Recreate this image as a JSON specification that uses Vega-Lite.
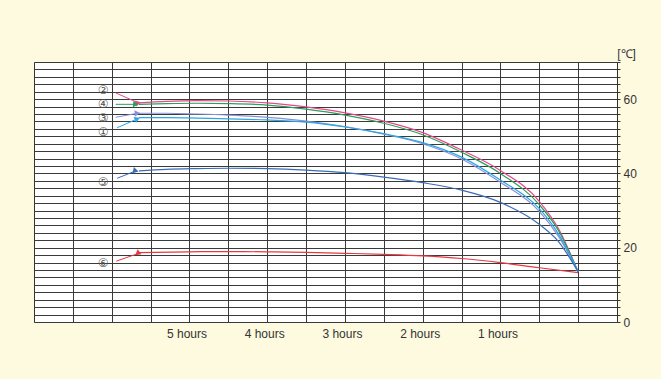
{
  "$schema": "https://vega.github.io/schema/vega-lite/v6.json",
  "width": 583,
  "height": 260,
  "autosize": {"type": "none"},
  "padding": {"left": 34, "top": 62, "right": 44, "bottom": 57},
  "background": "#fdfae0",
  "config": {
    "view": {"fill": "#ffffff", "stroke": "#333333", "strokeWidth": 1},
    "font": "Liberation Sans"
  },
  "datasets": {
    "curves": [
      {"s": "2", "h": 5.65, "v": 59.0}, {"s": "2", "h": 5.3, "v": 59.4}, {"s": "2", "h": 4.9, "v": 59.6}, {"s": "2", "h": 4.5, "v": 59.5}, {"s": "2", "h": 4.0, "v": 59.0}, {"s": "2", "h": 3.5, "v": 57.9}, {"s": "2", "h": 3.0, "v": 56.3}, {"s": "2", "h": 2.5, "v": 54.1}, {"s": "2", "h": 2.0, "v": 51.0}, {"s": "2", "h": 1.5, "v": 46.3}, {"s": "2", "h": 1.0, "v": 40.8}, {"s": "2", "h": 0.5, "v": 32.5}, {"s": "2", "h": 0.25, "v": 25.0}, {"s": "2", "h": 0, "v": 13.5},
      {"s": "4", "h": 5.65, "v": 58.6}, {"s": "4", "h": 5.3, "v": 58.8}, {"s": "4", "h": 4.9, "v": 58.9}, {"s": "4", "h": 4.5, "v": 58.8}, {"s": "4", "h": 4.0, "v": 58.4}, {"s": "4", "h": 3.5, "v": 57.3}, {"s": "4", "h": 3.0, "v": 55.7}, {"s": "4", "h": 2.5, "v": 53.5}, {"s": "4", "h": 2.0, "v": 50.4}, {"s": "4", "h": 1.5, "v": 45.7}, {"s": "4", "h": 1.0, "v": 40.0}, {"s": "4", "h": 0.5, "v": 31.6}, {"s": "4", "h": 0.25, "v": 24.5}, {"s": "4", "h": 0, "v": 13.5},
      {"s": "3", "h": 5.65, "v": 56.2}, {"s": "3", "h": 5.3, "v": 56.2}, {"s": "3", "h": 4.9, "v": 56.0}, {"s": "3", "h": 4.5, "v": 55.7}, {"s": "3", "h": 4.0, "v": 55.1}, {"s": "3", "h": 3.5, "v": 54.1}, {"s": "3", "h": 3.0, "v": 52.6}, {"s": "3", "h": 2.5, "v": 50.6}, {"s": "3", "h": 2.0, "v": 48.0}, {"s": "3", "h": 1.5, "v": 43.9}, {"s": "3", "h": 1.0, "v": 37.6}, {"s": "3", "h": 0.5, "v": 29.8}, {"s": "3", "h": 0.25, "v": 23.0}, {"s": "3", "h": 0, "v": 13.5},
      {"s": "1", "h": 5.65, "v": 55.0}, {"s": "1", "h": 5.3, "v": 55.0}, {"s": "1", "h": 4.9, "v": 54.9}, {"s": "1", "h": 4.5, "v": 54.7}, {"s": "1", "h": 4.0, "v": 54.4}, {"s": "1", "h": 3.5, "v": 53.8}, {"s": "1", "h": 3.0, "v": 52.5}, {"s": "1", "h": 2.5, "v": 50.7}, {"s": "1", "h": 2.0, "v": 48.3}, {"s": "1", "h": 1.5, "v": 44.4}, {"s": "1", "h": 1.0, "v": 38.2}, {"s": "1", "h": 0.5, "v": 30.5}, {"s": "1", "h": 0.25, "v": 23.6}, {"s": "1", "h": 0, "v": 13.5},
      {"s": "5", "h": 5.65, "v": 40.7}, {"s": "5", "h": 5.3, "v": 41.1}, {"s": "5", "h": 4.9, "v": 41.3}, {"s": "5", "h": 4.5, "v": 41.4}, {"s": "5", "h": 4.0, "v": 41.3}, {"s": "5", "h": 3.5, "v": 40.9}, {"s": "5", "h": 3.0, "v": 40.2}, {"s": "5", "h": 2.5, "v": 39.0}, {"s": "5", "h": 2.0, "v": 37.5}, {"s": "5", "h": 1.5, "v": 35.5}, {"s": "5", "h": 1.0, "v": 32.2}, {"s": "5", "h": 0.5, "v": 26.3}, {"s": "5", "h": 0.25, "v": 21.6}, {"s": "5", "h": 0, "v": 13.5},
      {"s": "6", "h": 5.65, "v": 18.7}, {"s": "6", "h": 5.0, "v": 18.9}, {"s": "6", "h": 4.5, "v": 18.95}, {"s": "6", "h": 4.0, "v": 18.9}, {"s": "6", "h": 3.5, "v": 18.75}, {"s": "6", "h": 3.0, "v": 18.5}, {"s": "6", "h": 2.5, "v": 18.2}, {"s": "6", "h": 2.0, "v": 17.8}, {"s": "6", "h": 1.5, "v": 17.1}, {"s": "6", "h": 1.0, "v": 16.0}, {"s": "6", "h": 0.5, "v": 14.6}, {"s": "6", "h": 0, "v": 13.3}
    ],
    "arrows": [
      {"s": "2", "h1": 5.95, "v1": 61.7, "h2": 5.66, "v2": 59.0},
      {"s": "4", "h1": 5.95, "v1": 58.6, "h2": 5.69, "v2": 58.6},
      {"s": "3", "h1": 5.95, "v1": 55.1, "h2": 5.67, "v2": 56.2},
      {"s": "1", "h1": 5.93, "v1": 52.3, "h2": 5.67, "v2": 54.7},
      {"s": "5", "h1": 5.93, "v1": 38.7, "h2": 5.69, "v2": 40.7},
      {"s": "6", "h1": 5.94, "v1": 16.4, "h2": 5.65, "v2": 18.5}
    ],
    "labels": [
      {"t": "②", "h": 6.11, "v": 62.5},
      {"t": "④", "h": 6.11, "v": 58.8},
      {"t": "③", "h": 6.11, "v": 55.0},
      {"t": "①", "h": 6.11, "v": 51.2},
      {"t": "⑤", "h": 6.11, "v": 37.8},
      {"t": "⑥", "h": 6.11, "v": 16.0}
    ]
  },
  "layer": [
    {
      "data": {"name": "curves"},
      "mark": {"type": "line", "interpolate": "monotone", "strokeWidth": 1.2},
      "encoding": {
        "x": {
          "field": "h", "type": "quantitative",
          "scale": {"domain": [-0.5, 7], "reverse": true, "nice": false, "zero": false},
          "axis": {
            "values": [0, 0.5, 1, 1.5, 2, 2.5, 3, 3.5, 4, 4.5, 5, 5.5, 6, 6.5],
            "tickCount": 40,
            "labelExpr": "(datum.value >= 1 && datum.value <= 5 && datum.value % 1 == 0) ? datum.value + ' hours' : ''",
            "grid": true, "gridColor": "#3a3a3a", "gridWidth": 1, "gridOpacity": 1,
            "ticks": false, "domain": false,
            "labelFontSize": 12, "labelColor": "#333333", "labelPadding": 6,
            "labelOffset": -3, "labelOverlap": false, "labelFlush": false, "labelBound": false,
            "title": null
          }
        },
        "y": {
          "field": "v", "type": "quantitative",
          "scale": {"domain": [0, 70], "nice": false},
          "axis": {
            "orient": "right",
            "values": [0, 2, 4, 6, 8, 10, 12, 14, 16, 18, 20, 22, 24, 26, 28, 30, 32, 34, 36, 38, 40, 42, 44, 46, 48, 50, 52, 54, 56, 58, 60, 62, 64, 66, 68, 70],
            "tickCount": 80,
            "labelExpr": "datum.value % 20 === 0 ? datum.label : ''",
            "grid": true, "gridColor": "#3a3a3a", "gridWidth": 1, "gridOpacity": 1,
            "ticks": true, "tickSize": 3, "tickColor": "#333333",
            "domain": false,
            "labelFontSize": 12, "labelColor": "#333333", "labelPadding": 3,
            "labelOverlap": false, "labelFlush": false, "labelBound": false,
            "title": "[℃]", "titleAngle": 0, "titleX": 9, "titleY": -5,
            "titleAlign": "center", "titleBaseline": "alphabetic",
            "titleFontWeight": "normal", "titleFontSize": 12, "titleColor": "#333333"
          }
        },
        "color": {
          "field": "s", "type": "nominal",
          "scale": {"domain": ["1", "2", "3", "4", "5", "6"], "range": ["#2aa7e4", "#e5488c", "#8b8fd6", "#2e9e5a", "#3b6cb7", "#e8383f"]},
          "legend": null
        },
        "detail": {"field": "s"}
      }
    },
    {
      "data": {"name": "arrows"},
      "mark": {"type": "rule", "strokeWidth": 1},
      "encoding": {
        "x": {"field": "h1", "type": "quantitative"},
        "x2": {"field": "h2"},
        "y": {"field": "v1", "type": "quantitative"},
        "y2": {"field": "v2"},
        "color": {"field": "s", "type": "nominal", "legend": null}
      }
    },
    {
      "data": {"name": "arrows"},
      "mark": {"type": "point", "shape": "triangle-right", "filled": true, "opacity": 1, "size": 40},
      "encoding": {
        "x": {"field": "h2", "type": "quantitative"},
        "y": {"field": "v2", "type": "quantitative"},
        "color": {"field": "s", "type": "nominal", "legend": null},
        "angle": {
          "field": "s", "type": "nominal",
          "scale": {"domain": ["1", "2", "3", "4", "5", "6"], "range": [-23, 23, -10, 0, -21, -19]},
          "legend": null
        }
      }
    },
    {
      "data": {"name": "labels"},
      "mark": {"type": "text", "font": "DejaVu Sans", "fontSize": 12, "color": "#555555", "align": "center", "baseline": "middle"},
      "encoding": {
        "x": {"field": "h", "type": "quantitative"},
        "y": {"field": "v", "type": "quantitative"},
        "text": {"field": "t"}
      }
    }
  ]
}
